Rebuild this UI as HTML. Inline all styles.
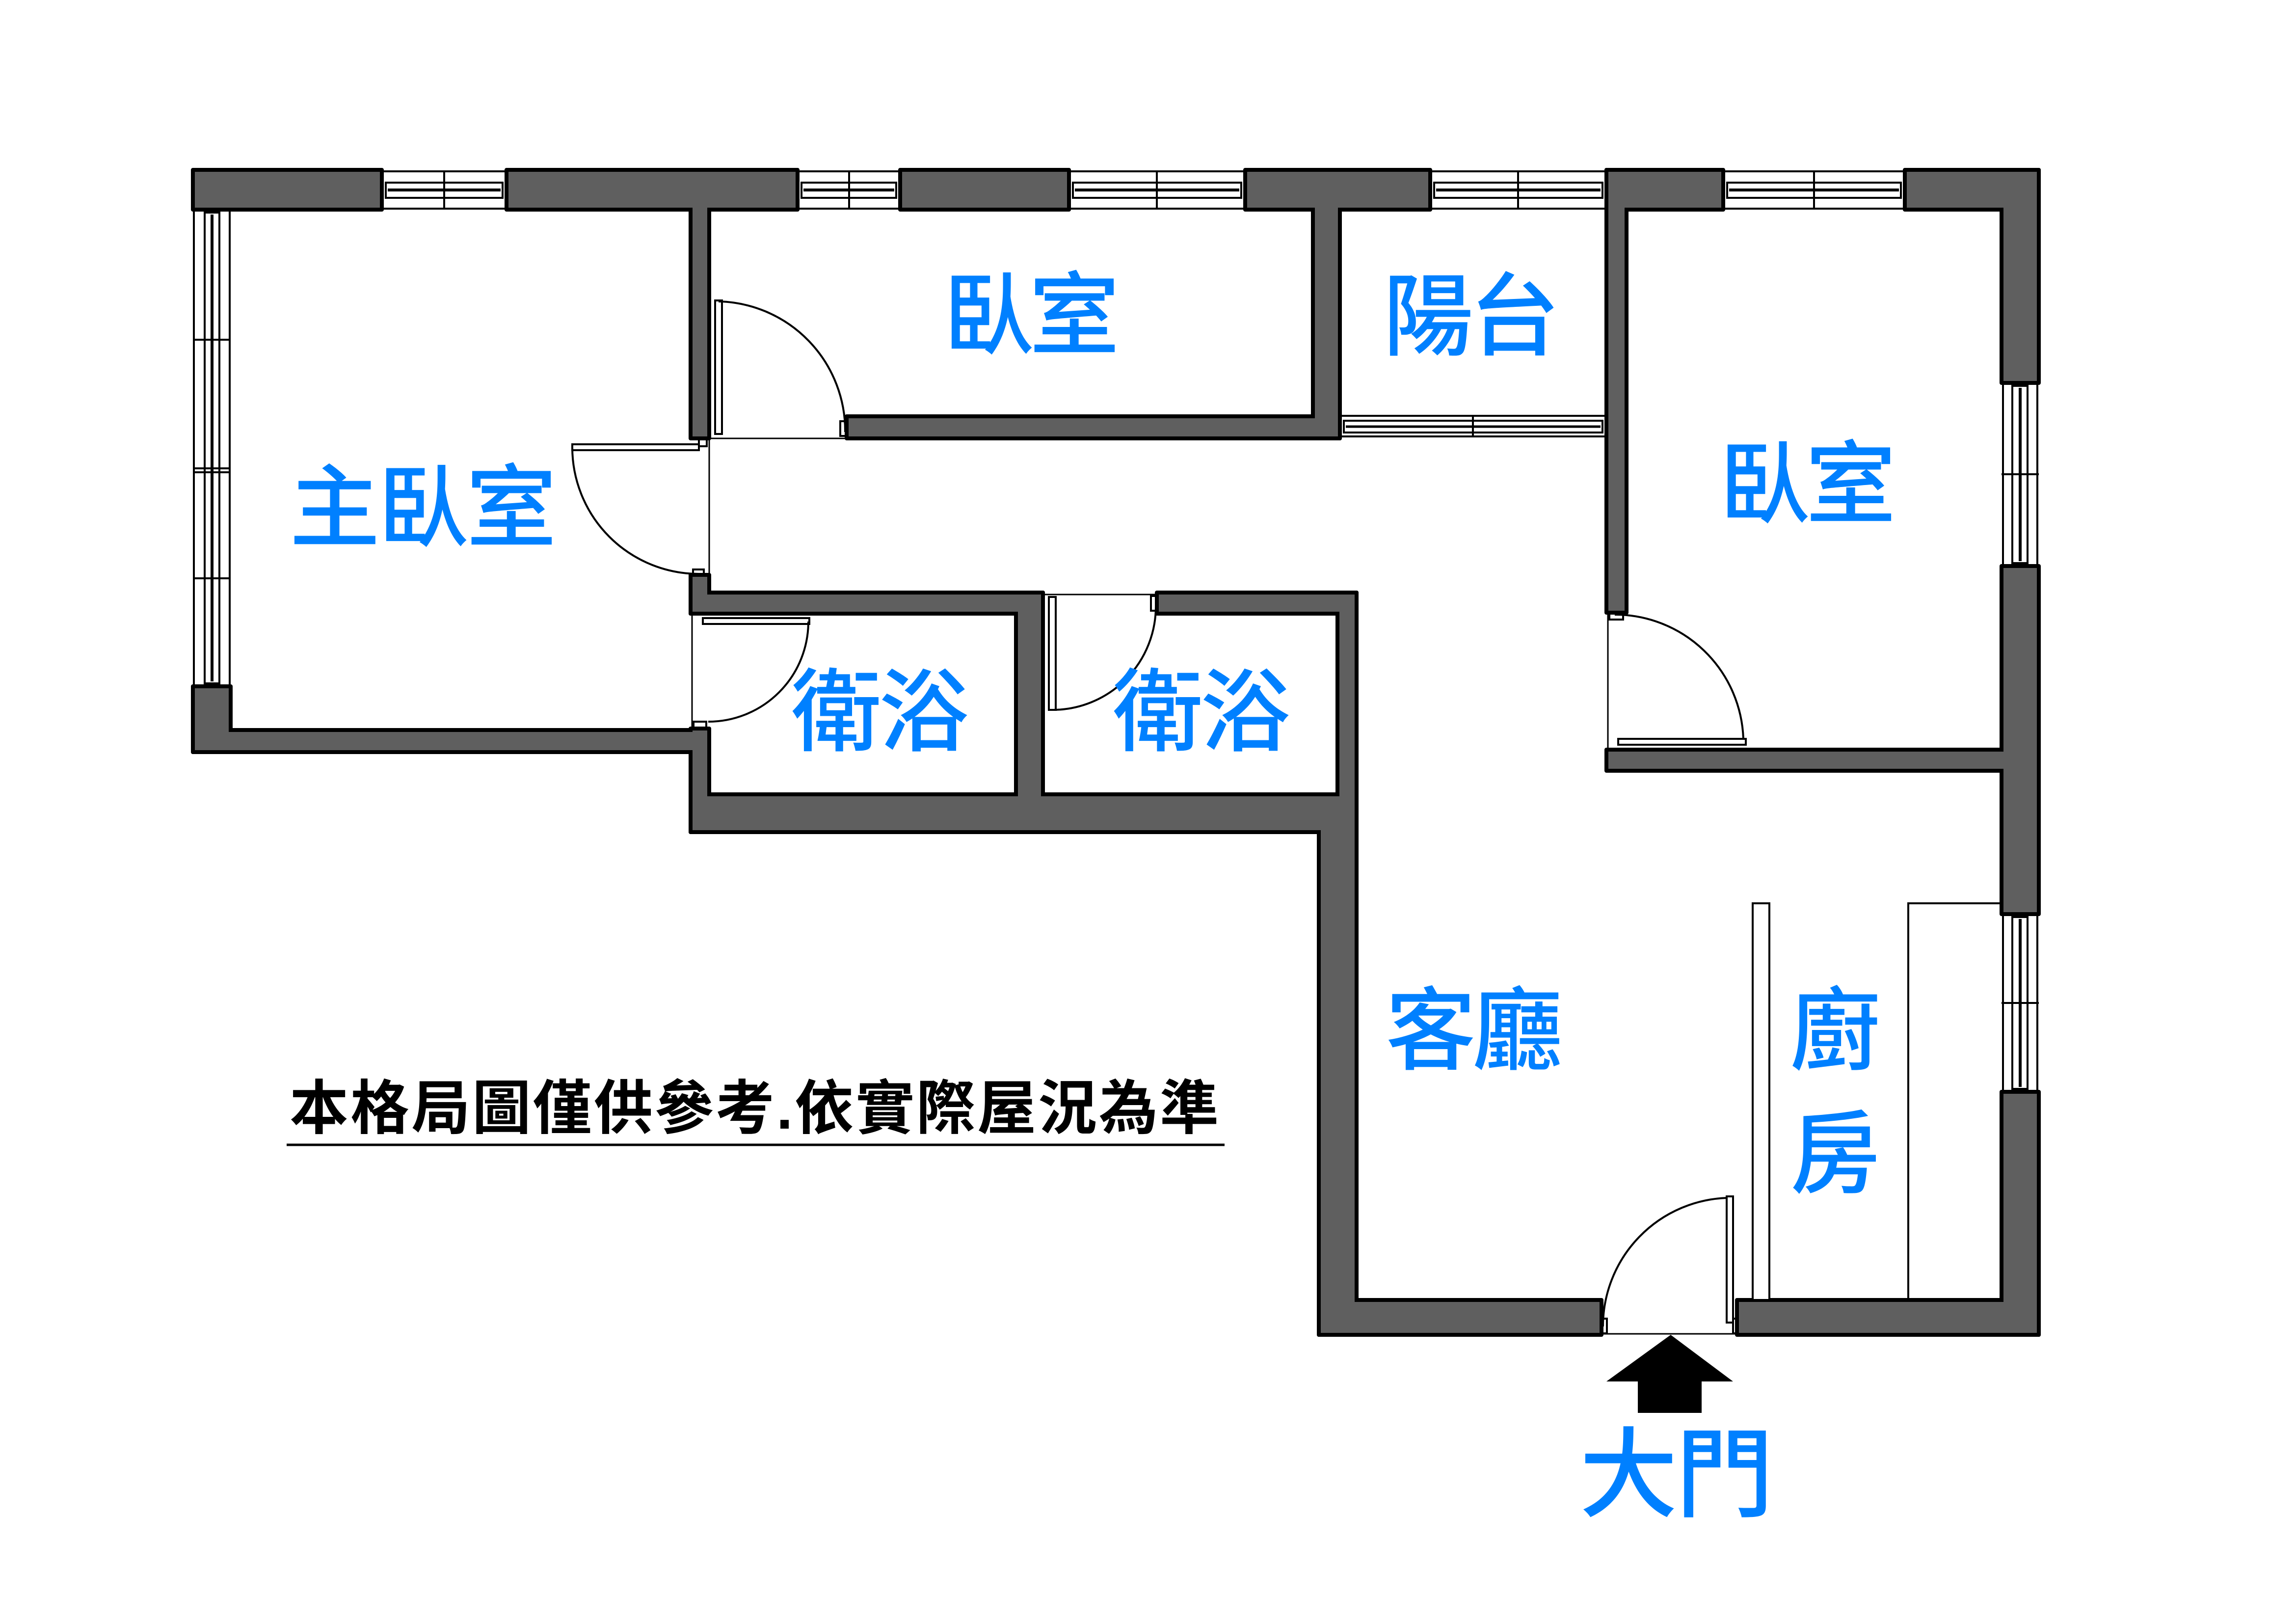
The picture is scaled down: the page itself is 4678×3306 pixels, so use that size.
<!DOCTYPE html>
<html><head><meta charset="utf-8"><style>
html,body{margin:0;padding:0;background:#fff;}
svg{display:block;}
.t{font-family:"Liberation Sans","Noto Sans CJK TC","Noto Sans CJK JP",sans-serif;}
</style></head><body>
<svg width="4678" height="3306" viewBox="0 0 4678 3306" xmlns="http://www.w3.org/2000/svg">
<rect width="4678" height="3306" fill="#fff"/>
<!-- wall outline layer -->
<g fill="#000" stroke="#000" stroke-width="8" stroke-linejoin="round">
<rect x="393" y="346" width="385" height="81"/>
<rect x="1032" y="346" width="593" height="81"/>
<rect x="1834" y="346" width="344" height="81"/>
<rect x="2537" y="346" width="377" height="81"/>
<rect x="3273" y="346" width="238" height="81"/>
<rect x="3881" y="346" width="273" height="81"/>
<rect x="1407" y="346" width="38" height="547"/>
<rect x="2675" y="346" width="55" height="547"/>
<rect x="1725" y="848" width="1005" height="45"/>
<rect x="3273" y="346" width="41" height="902"/>
<rect x="4078" y="346" width="76" height="434"/>
<rect x="4078" y="1153" width="76" height="709"/>
<rect x="4078" y="2224" width="76" height="495"/>
<rect x="3273" y="1527" width="881" height="43"/>
<rect x="393" y="1398" width="77" height="134"/>
<rect x="393" y="1487" width="1052" height="45"/>
<rect x="1407" y="1484" width="38" height="211"/>
<rect x="1407" y="1171" width="38" height="79"/>
<rect x="1407" y="1207" width="718" height="43"/>
<rect x="2070" y="1207" width="55" height="488"/>
<rect x="2357" y="1207" width="407" height="43"/>
<rect x="2725" y="1207" width="39" height="488"/>
<rect x="1407" y="1618" width="1357" height="77"/>
<rect x="2687" y="1618" width="77" height="1101"/>
<rect x="2687" y="2648" width="576" height="71"/>
<rect x="3539" y="2648" width="615" height="71"/>
</g>
<!-- wall fill layer -->
<g fill="#5f5f5f">
<rect x="397" y="350" width="377" height="73"/>
<rect x="1036" y="350" width="585" height="73"/>
<rect x="1838" y="350" width="336" height="73"/>
<rect x="2541" y="350" width="369" height="73"/>
<rect x="3277" y="350" width="230" height="73"/>
<rect x="3885" y="350" width="265" height="73"/>
<rect x="1411" y="350" width="30" height="539"/>
<rect x="2679" y="350" width="47" height="539"/>
<rect x="1729" y="852" width="997" height="37"/>
<rect x="3277" y="350" width="33" height="894"/>
<rect x="4082" y="350" width="68" height="426"/>
<rect x="4082" y="1157" width="68" height="701"/>
<rect x="4082" y="2228" width="68" height="487"/>
<rect x="3277" y="1531" width="873" height="35"/>
<rect x="397" y="1402" width="69" height="126"/>
<rect x="397" y="1491" width="1044" height="37"/>
<rect x="1411" y="1488" width="30" height="203"/>
<rect x="1411" y="1175" width="30" height="71"/>
<rect x="1411" y="1211" width="710" height="35"/>
<rect x="2074" y="1211" width="47" height="480"/>
<rect x="2361" y="1211" width="399" height="35"/>
<rect x="2729" y="1211" width="31" height="480"/>
<rect x="1411" y="1622" width="1349" height="69"/>
<rect x="2691" y="1622" width="69" height="1093"/>
<rect x="2691" y="2652" width="568" height="63"/>
<rect x="3543" y="2652" width="607" height="63"/>
</g>

<!-- windows -->
<g fill="none" stroke="#000" stroke-width="4">
<g>
<line x1="778" y1="349" x2="1032" y2="349"/><line x1="778" y1="425" x2="1032" y2="425"/>
<rect x="786" y="372" width="238" height="31"/><line x1="790" y1="387" x2="1020" y2="387" stroke-width="6"/>
<line x1="905" y1="347" x2="905" y2="427"/>
</g>
<g>
<line x1="1625" y1="349" x2="1834" y2="349"/><line x1="1625" y1="425" x2="1834" y2="425"/>
<rect x="1633" y="372" width="193" height="31"/><line x1="1637" y1="387" x2="1822" y2="387" stroke-width="6"/>
<line x1="1730" y1="347" x2="1730" y2="427"/>
</g>
<g>
<line x1="2178" y1="349" x2="2537" y2="349"/><line x1="2178" y1="425" x2="2537" y2="425"/>
<rect x="2186" y="372" width="343" height="31"/><line x1="2190" y1="387" x2="2525" y2="387" stroke-width="6"/>
<line x1="2357" y1="347" x2="2357" y2="427"/>
</g>
<g>
<line x1="2914" y1="349" x2="3273" y2="349"/><line x1="2914" y1="425" x2="3273" y2="425"/>
<rect x="2922" y="372" width="343" height="31"/><line x1="2926" y1="387" x2="3261" y2="387" stroke-width="6"/>
<line x1="3093" y1="347" x2="3093" y2="427"/>
</g>
<g>
<line x1="3511" y1="349" x2="3881" y2="349"/><line x1="3511" y1="425" x2="3881" y2="425"/>
<rect x="3519" y="372" width="354" height="31"/><line x1="3523" y1="387" x2="3869" y2="387" stroke-width="6"/>
<line x1="3696" y1="347" x2="3696" y2="427"/>
</g>
<g>
<line x1="395" y1="427" x2="395" y2="1398"/><line x1="468" y1="427" x2="468" y2="1398"/>
<rect x="417" y="433" width="30" height="959"/><line x1="432" y1="437" x2="432" y2="1388" stroke-width="6"/>
<line x1="393" y1="692" x2="470" y2="692"/>
<line x1="393" y1="954" x2="470" y2="954"/><line x1="393" y1="962" x2="470" y2="962"/>
<line x1="393" y1="1178" x2="470" y2="1178"/>
</g>
<g>
<line x1="4081" y1="780" x2="4081" y2="1153"/><line x1="4151" y1="780" x2="4151" y2="1153"/>
<rect x="4100" y="786" width="31" height="361"/><line x1="4116" y1="790" x2="4116" y2="1143" stroke-width="6"/>
<line x1="4078" y1="966" x2="4154" y2="966"/>
</g>
<g>
<line x1="4081" y1="1862" x2="4081" y2="2224"/><line x1="4151" y1="1862" x2="4151" y2="2224"/>
<rect x="4100" y="1868" width="31" height="350"/><line x1="4116" y1="1872" x2="4116" y2="2214" stroke-width="6"/>
<line x1="4078" y1="2043" x2="4154" y2="2043"/>
</g>
<g>
<line x1="2730" y1="847" x2="3273" y2="847"/><line x1="2730" y1="889" x2="3273" y2="889"/>
<rect x="2738" y="857" width="527" height="24"/><line x1="2742" y1="869" x2="3261" y2="869" stroke-width="5"/>
<line x1="3001" y1="845" x2="3001" y2="891"/>
</g>
</g>

<!-- doors -->
<g fill="none" stroke="#000" stroke-width="4">
<rect x="1166" y="905" width="258" height="12"/>
<path d="M1166,911 A258,258 0 0,0 1424,1169"/>
<rect x="1424" y="895" width="16" height="14"/>
<rect x="1412" y="1160" width="22" height="12"/>
<line x1="1445" y1="893" x2="1445" y2="1207" stroke-width="3"/>
<rect x="1457" y="612" width="14" height="272"/>
<path d="M1464,614 A264,264 0 0,1 1722,880"/>
<rect x="1712" y="858" width="12" height="30"/>
<line x1="1445" y1="893" x2="1725" y2="893" stroke-width="3"/>
<rect x="1432" y="1259" width="217" height="12"/>
<path d="M1647,1266 A204,204 0 0,1 1443,1470"/>
<rect x="1413" y="1470" width="26" height="12"/>
<line x1="1410" y1="1250" x2="1410" y2="1484" stroke-width="3"/>
<rect x="2137" y="1216" width="14" height="230"/>
<path d="M2146,1446 A211,211 0 0,0 2355,1235"/>
<rect x="2345" y="1214" width="12" height="30"/>
<line x1="2125" y1="1211" x2="2357" y2="1211" stroke-width="3"/>
<rect x="3297" y="1505" width="260" height="12"/>
<path d="M3552,1505 A262,262 0 0,0 3290,1252"/>
<rect x="3279" y="1250" width="28" height="12"/>
<line x1="3276" y1="1248" x2="3276" y2="1527" stroke-width="3"/>
<rect x="3518" y="2437" width="13" height="257"/>
<path d="M3520,2440 A262,262 0 0,0 3266,2702"/>
<rect x="3264" y="2686" width="10" height="30"/>
<rect x="3531" y="2686" width="8" height="30"/>
<line x1="3263" y1="2717" x2="3539" y2="2717" stroke-width="3"/>
</g>

<!-- kitchen -->
<g fill="#fff" stroke="#000" stroke-width="4">
<rect x="3571" y="1840" width="34" height="808"/>
<polyline points="3888,2648 3888,1840 4078,1840" fill="none"/>
</g>

<!-- arrow -->
<polygon points="3404,2719 3531,2814 3467,2814 3467,2878 3337,2878 3337,2814 3273,2814" fill="#000"/>

<!-- labels -->
<g class="t" fill="#0080ff" font-size="184" font-weight="500" text-anchor="middle">
<text x="682" y="1099">主</text><text x="862" y="1099">臥</text><text x="1042" y="1099">室</text>
<text x="2014" y="707">臥</text><text x="2189" y="707">室</text>
<text x="2910" y="709">陽</text><text x="3086" y="709">台</text>
<text x="3595" y="1051">臥</text><text x="3771" y="1051">室</text>
<text x="1704" y="1515">衛</text><text x="1882" y="1515">浴</text>
<text x="2359" y="1515">衛</text><text x="2537" y="1515">浴</text>
<text x="2915" y="2164">客</text><text x="3092" y="2164">廳</text>
<text x="3739" y="2164">廚</text>
<text x="3739" y="2415">房</text>
<text x="3318" y="3074" font-size="200">大</text><text x="3514" y="3074" font-size="200">門</text>
</g>

<!-- disclaimer -->
<text class="t" x="590" y="2299" font-size="120" font-weight="700" fill="#000" textLength="1893" lengthAdjust="spacing">本格局圖僅供參考.依實際屋況為準</text>
<line x1="584" y1="2332" x2="2495" y2="2332" stroke="#000" stroke-width="5"/>
</svg>
</body></html>
